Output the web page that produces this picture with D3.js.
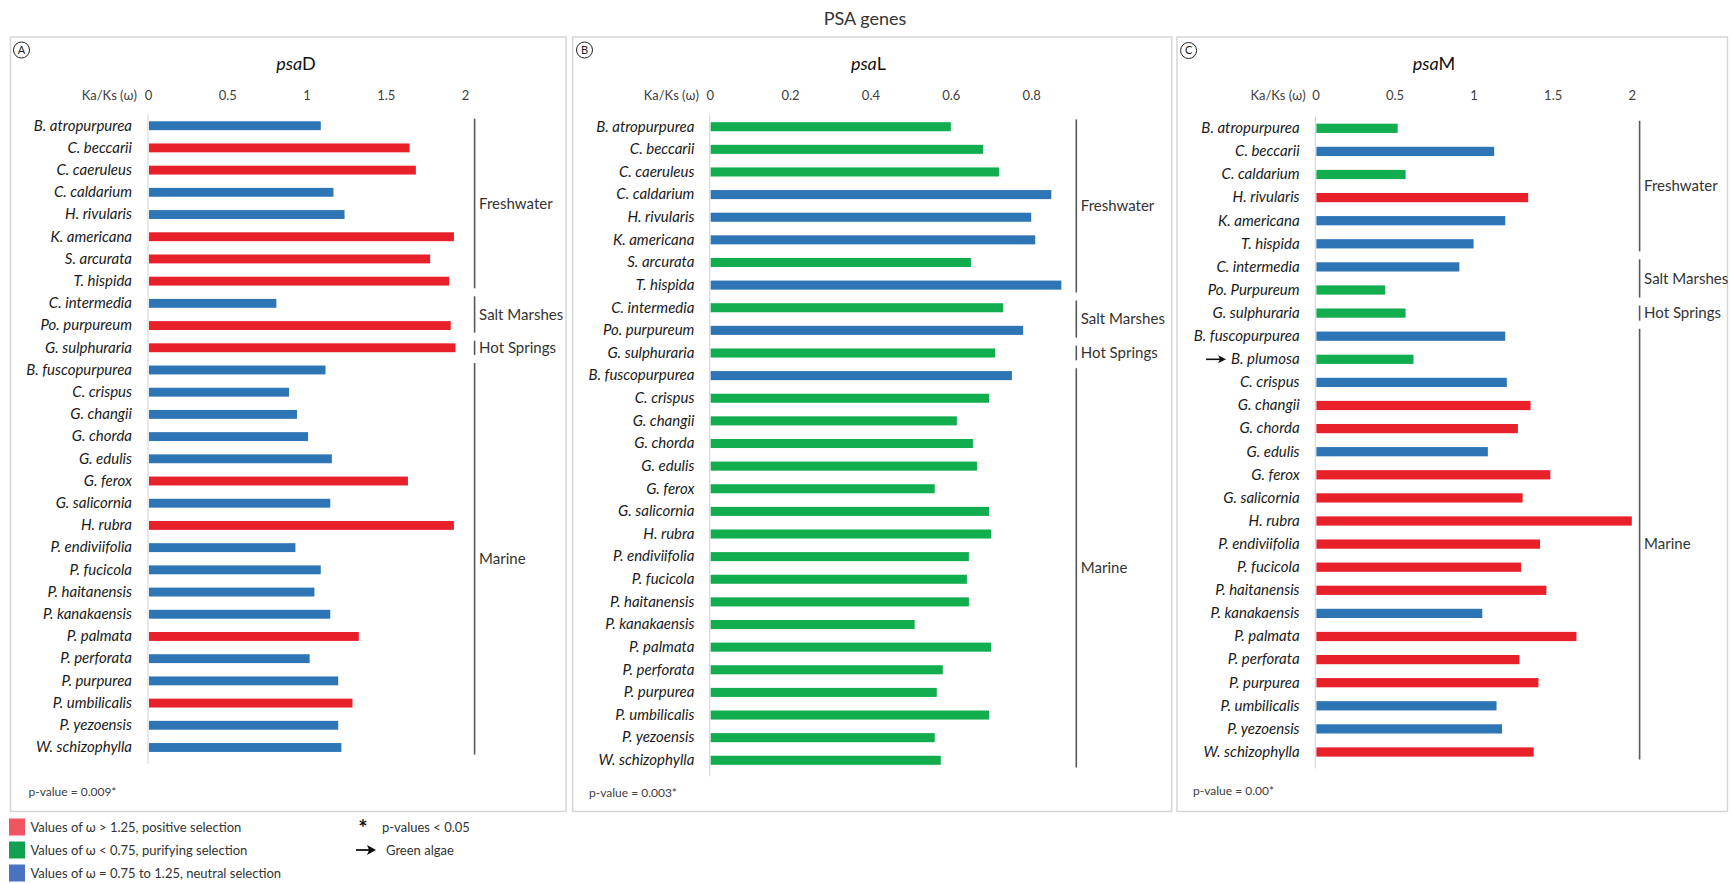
<!DOCTYPE html>
<html>
<head>
<meta charset="utf-8">
<script src="https://cdn.jsdelivr.net/npm/d3@7"></script>
<style>
  body { margin: 0; background: #ffffff; }
  svg { display: block; font-family: Lato, "Open Sans", sans-serif; }
</style>
</head>
<body>
<svg id="chart" width="1730" height="883"></svg>
<script>
// ---- Species (row order, top to bottom) ----
const speciesAB = ["B. atropurpurea", "C. beccarii", "C. caeruleus", "C. caldarium", "H. rivularis",
  "K. americana", "S. arcurata", "T. hispida", "C. intermedia", "Po. purpureum", "G. sulphuraria",
  "B. fuscopurpurea", "C. crispus", "G. changii", "G. chorda", "G. edulis", "G. ferox", "G. salicornia",
  "H. rubra", "P. endiviifolia", "P. fucicola", "P. haitanensis", "P. kanakaensis", "P. palmata",
  "P. perforata", "P. purpurea", "P. umbilicalis", "P. yezoensis", "W. schizophylla"];
const speciesC = ["B. atropurpurea", "C. beccarii", "C. caldarium", "H. rivularis", "K. americana",
  "T. hispida", "C. intermedia", "Po. Purpureum", "G. sulphuraria", "B. fuscopurpurea", "B. plumosa",
  "C. crispus", "G. changii", "G. chorda", "G. edulis", "G. ferox", "G. salicornia", "H. rubra",
  "P. endiviifolia", "P. fucicola", "P. haitanensis", "P. kanakaensis", "P. palmata", "P. perforata",
  "P. purpurea", "P. umbilicalis", "P. yezoensis", "W. schizophylla"];

// ---- Ka/Ks (omega) per gene ----
const omegaPsaD = [1.09, 1.65, 1.69, 1.17, 1.24, 1.93, 1.78, 1.90, 0.81, 1.91, 1.94,
  1.12, 0.89, 0.94, 1.01, 1.16, 1.64, 1.15, 1.93, 0.93, 1.09, 1.05, 1.15, 1.33, 1.02, 1.20, 1.29, 1.20, 1.22];
const omegaPsaL = [0.60, 0.68, 0.72, 0.85, 0.80, 0.81, 0.65, 0.875, 0.73, 0.78, 0.71,
  0.752, 0.695, 0.615, 0.655, 0.665, 0.56, 0.695, 0.70, 0.645, 0.64, 0.645, 0.51, 0.70, 0.58, 0.565, 0.695, 0.56, 0.575];
const omegaPsaM = [0.52, 1.13, 0.57, 1.345, 1.20, 1.00, 0.91, 0.44, 0.57,
  1.20, 0.62, 1.21, 1.36, 1.28, 1.09, 1.485, 1.31, 2.00, 1.42, 1.30, 1.46, 1.055, 1.65, 1.29, 1.41, 1.145, 1.18, 1.38];

// ---- Axis ticks ----
const ticksPsaD = [0, 0.5, 1, 1.5, 2];
const ticksPsaL = [0, 0.2, 0.4, 0.6, 0.8];
const ticksPsaM = [0, 0.5, 1, 1.5, 2];

// ---- Habitat groups (number of consecutive rows in each) ----
const habitatNames = ["Freshwater", "Salt Marshes", "Hot Springs", "Marine"];
const habitatCountsAB = [8, 2, 1, 18];
const habitatCountsC = [6, 2, 1, 19];

const geneNames = ["D", "L", "M"];
const panelLetters = ["A", "B", "C"];
const pValueLabels = ["p-value = 0.009*", "p-value = 0.003*", "p-value = 0.00*"];
const greenAlgae = ["B. plumosa"];

// ---- Selection classes (omega thresholds) ----
const selectionCuts = [0.75, 1.25];
const selectionColors = ["#12ad4f", "#2e75b6", "#e8202a"];
const legendColors = ["#ef5560", "#12a150", "#4a72c0"];
const legendLabels = ["Values of \u03c9 > 1.25, positive selection",
  "Values of \u03c9 < 0.75, purifying selection",
  "Values of \u03c9 = 0.75 to 1.25, neutral selection"];
const noteLabels = ["p-values < 0.05", "Green algae"];

const colorOf = d3.scaleThreshold().domain(selectionCuts).range(selectionColors);

// ---- Panel layout ----
const layouts = [
  { box: [10.5, 37, 566, 811.5], xRange: [148, 465], yRange: [114.6, 758.6], labelRight: 132,
    axisTitleRight: 137, bracketX: 474.6, titleX: 296, circle: [21.5, 50], pval: [28.5, 792] },
  { box: [572.7, 37, 1171.7, 811.5], xRange: [709.7, 1031.2], yRange: [115.4, 771.6], labelRight: 694.4,
    axisTitleRight: 699, bracketX: 1076.3, titleX: 868.5, circle: [584.5, 50], pval: [589, 793] },
  { box: [1177, 37, 1727.5, 811.5], xRange: [1315.4, 1631.8], yRange: [116.75, 763.55], labelRight: 1299.6,
    axisTitleRight: 1305.7, bracketX: 1639.6, titleX: 1434, circle: [1188.6, 50.5], pval: [1193, 791] }
];

const panelData = [
  { species: speciesAB, omega: omegaPsaD, ticks: ticksPsaD, habitats: habitatCountsAB },
  { species: speciesAB, omega: omegaPsaL, ticks: ticksPsaL, habitats: habitatCountsAB },
  { species: speciesC, omega: omegaPsaM, ticks: ticksPsaM, habitats: habitatCountsC }
];

const svg = d3.select("#chart");

svg.append("text")
  .attr("x", 865).attr("y", 25)
  .attr("text-anchor", "middle")
  .attr("font-size", 18).attr("fill", "#333")
  .text("PSA genes");

panelData.forEach((pd, i) => {
  const L = layouts[i];
  const g = svg.append("g");

  // frame
  g.append("rect")
    .attr("x", L.box[0]).attr("y", L.box[1])
    .attr("width", L.box[2] - L.box[0]).attr("height", L.box[3] - L.box[1])
    .attr("fill", "none").attr("stroke", "#d6d6d6").attr("stroke-width", 1.5);

  // circled panel letter
  g.append("circle").attr("cx", L.circle[0]).attr("cy", L.circle[1]).attr("r", 8)
    .attr("fill", "none").attr("stroke", "#222").attr("stroke-width", 1);
  g.append("text").attr("x", L.circle[0]).attr("y", L.circle[1]).attr("dy", "0.36em")
    .attr("text-anchor", "middle").attr("font-size", 11).attr("fill", "#222")
    .text(panelLetters[i]);

  // gene title
  const t = g.append("text").attr("x", L.titleX).attr("y", 70)
    .attr("text-anchor", "middle").attr("font-size", 18).attr("fill", "#111");
  t.append("tspan").attr("font-style", "italic").text("psa");
  t.append("tspan").text(geneNames[i]);

  const x = d3.scaleLinear()
    .domain([0, pd.ticks[pd.ticks.length - 1]])
    .range(L.xRange);
  const y = d3.scaleBand()
    .domain(pd.species)
    .range(L.yRange)
    .paddingInner(0.6).paddingOuter(0.3);

  // top value axis
  const xAxis = g.append("g")
    .attr("transform", "translate(0,100)")
    .call(d3.axisTop(x).tickValues(pd.ticks).tickSize(0).tickPadding(0).tickFormat(d => String(d)));
  xAxis.select(".domain").remove();
  xAxis.selectAll("text").attr("font-size", 13).attr("fill", "#404040")
    .attr("font-family", "Lato, 'Open Sans', sans-serif");

  g.append("text").attr("x", L.axisTitleRight).attr("y", 100)
    .attr("text-anchor", "end").attr("font-size", 13).attr("fill", "#404040")
    .text("Ka/Ks (\u03c9)");

  // category axis line
  g.append("line")
    .attr("x1", x(0)).attr("x2", x(0))
    .attr("y1", L.yRange[0]).attr("y2", L.yRange[1] + 5)
    .attr("stroke", "#d9d9d9").attr("stroke-width", 1.2);

  // bars
  g.selectAll("rect.bar")
    .data(pd.species.map((s, k) => ({ s, v: pd.omega[k] })))
    .join("rect").attr("class", "bar")
    .attr("x", x(0) + 1)
    .attr("y", d => y(d.s))
    .attr("width", d => x(d.v) - x(0) - 1)
    .attr("height", y.bandwidth())
    .attr("fill", d => colorOf(d.v));

  // species labels
  const yAxis = g.append("g")
    .attr("transform", `translate(${L.labelRight},0)`)
    .call(d3.axisLeft(y).tickSize(0).tickPadding(0));
  yAxis.select(".domain").remove();
  yAxis.selectAll("text")
    .attr("font-size", 15).attr("font-style", "italic").attr("fill", "#1a1a1a")
    .attr("font-family", "Lato, 'Open Sans', sans-serif");

  // arrow marking green algae
  yAxis.selectAll(".tick").filter(d => greenAlgae.includes(d)).each(function (d) {
    const w = this.querySelector("text").getComputedTextLength();
    const cy = y(d) + y.bandwidth() / 2;
    const xe = L.labelRight - w - 5;
    g.append("line").attr("x1", xe - 20).attr("x2", xe - 6).attr("y1", cy).attr("y2", cy)
      .attr("stroke", "#111").attr("stroke-width", 1.6);
    g.append("path")
      .attr("d", `M${xe},${cy} L${xe - 8},${cy - 4} L${xe - 6},${cy} L${xe - 8},${cy + 4} Z`)
      .attr("fill", "#111");
  });

  // habitat brackets
  let start = 0;
  pd.habitats.forEach((n, h) => {
    const first = pd.species[start];
    const last = pd.species[start + n - 1];
    const y1 = y(first) - y.step() * 0.3 + 4;
    const y2 = y(last) + y.bandwidth() + y.step() * 0.3 - 4;
    g.append("line")
      .attr("x1", L.bracketX).attr("x2", L.bracketX)
      .attr("y1", y1).attr("y2", y2)
      .attr("stroke", "#595959").attr("stroke-width", 1.6);
    g.append("text")
      .attr("x", L.bracketX + 4.5).attr("y", (y1 + y2) / 2).attr("dy", "0.35em")
      .attr("font-size", 15).attr("fill", "#333")
      .text(habitatNames[h]);
    start += n;
  });

  // p-value note
  g.append("text").attr("x", L.pval[0]).attr("y", L.pval[1]).attr("dy", "0.35em")
    .attr("font-size", 12).attr("fill", "#404040")
    .text(pValueLabels[i]);
});

// ---- Legend ----
const legend = svg.append("g");
legendLabels.forEach((lab, k) => {
  const cy = 827 + k * 23;
  legend.append("rect").attr("x", 9).attr("y", cy - 8.5).attr("width", 16).attr("height", 17)
    .attr("fill", legendColors[k]);
  legend.append("text").attr("x", 30.5).attr("y", cy).attr("dy", "0.35em")
    .attr("font-size", 13).attr("fill", "#333").text(lab);
});
legend.append("text").attr("x", 363).attr("y", 836).attr("text-anchor", "middle")
  .attr("font-size", 22).attr("font-weight", "bold").attr("fill", "#111").text("*");
legend.append("text").attr("x", 382).attr("y", 827).attr("dy", "0.35em")
  .attr("font-size", 13).attr("fill", "#333").text(noteLabels[0]);
legend.append("line").attr("x1", 356).attr("x2", 369).attr("y1", 850).attr("y2", 850)
  .attr("stroke", "#111").attr("stroke-width", 1.8);
legend.append("path").attr("d", "M376,850 L367,845 L369,850 L367,855 Z").attr("fill", "#111");
legend.append("text").attr("x", 386).attr("y", 850).attr("dy", "0.35em")
  .attr("font-size", 13).attr("fill", "#333").text(noteLabels[1]);
</script>
</body>
</html>
